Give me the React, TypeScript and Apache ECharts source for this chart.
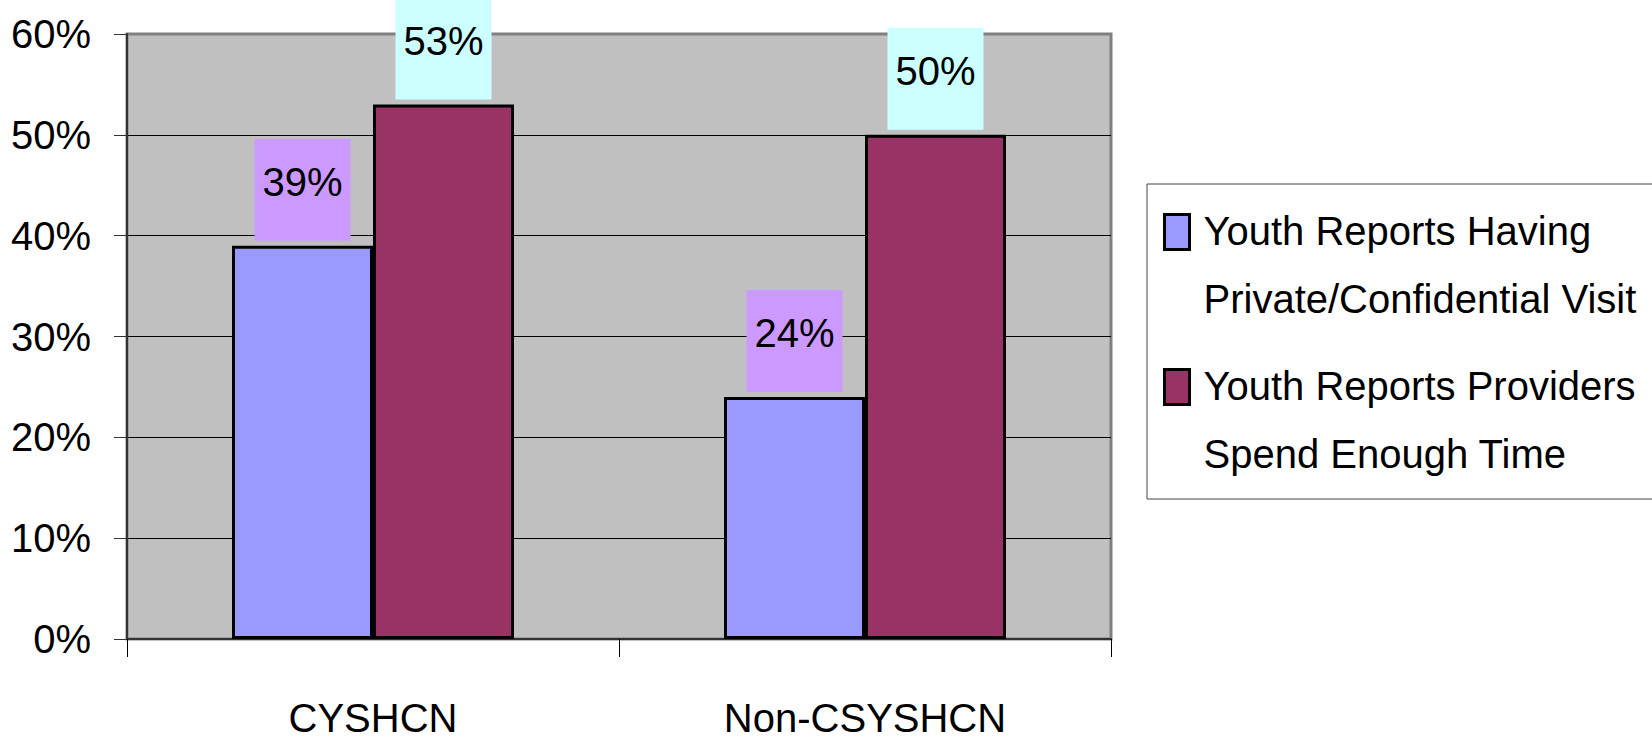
import React, { useEffect, useRef } from "react";
import * as echarts from "echarts";

const categories = ["CYSHCN", "Non-CSYSHCN"];
const seriesNames = [
  "Youth Reports Having\nPrivate/Confidential Visit",
  "Youth Reports Providers\nSpend Enough Time",
];
const privateVisit = [39, 24];
const enoughTime = [53, 50];
const barColors = ["#9999FF", "#993366"];
const labelColors = ["#CC99FF", "#CCFFFF"];

const FONT = "'Liberation Sans', Arial, sans-serif";
const FS = 40;

export default function App() {
  const ref = useRef<HTMLDivElement>(null);
  useEffect(() => {
    document.body.style.margin = "0";
    if (!ref.current) return;
    const chart = echarts.init(ref.current, null, { renderer: "svg" });
    const mkSeries = (i: number, data: number[]) => ({
      name: seriesNames[i],
      type: "bar",
      data,
      barWidth: 141,
      barGap: "0%",
      itemStyle: { color: barColors[i], borderColor: "#000", borderWidth: 3 },
      label: {
        show: true,
        position: "top",
        distance: 5,
        formatter: "{c}%",
        color: "#000",
        fontFamily: FONT,
        fontSize: FS,
        lineHeight: 60,
        backgroundColor: labelColors[i],
        width: 96,
        align: "center",
        padding: [13, 0, 29, 0],
      },
    });
    chart.setOption({
      animation: false,
      backgroundColor: "#fff",
      grid: {
        left: 127,
        right: 541,
        top: 34,
        bottom: 103,
        show: true,
        backgroundColor: "#C0C0C0",
        borderColor: "#808080",
        borderWidth: 3,
      },
      legend: {
        orient: "vertical",
        left: 1147,
        top: 184,
        padding: [11, 30, 10, 16],
        itemGap: 16,
        itemWidth: 34,
        itemHeight: 136,
        icon: "path://M0,18 h25 v35 h-25 z M34,136 L34,136 M0,0 L0,0",
        borderColor: "#444",
        borderWidth: 1,
        backgroundColor: "#fff",
        itemStyle: { borderColor: "#000", borderWidth: 3 },
        textStyle: { fontFamily: FONT, fontSize: FS, lineHeight: 68, color: "#000" },
        data: seriesNames,
      },
      xAxis: {
        type: "category",
        data: categories,
        axisLine: { show: true, lineStyle: { color: "#333", width: 2 } },
        axisTick: { show: true, length: 18, lineStyle: { color: "#000", width: 1 } },
        axisLabel: {
          fontFamily: FONT,
          fontSize: FS,
          lineHeight: 56,
          color: "#000",
          margin: 51,
        },
        splitLine: { show: false },
      },
      yAxis: {
        type: "value",
        min: 0,
        max: 60,
        interval: 10,
        axisLine: { show: true, lineStyle: { color: "#333", width: 2 } },
        axisTick: { show: true, length: 13, lineStyle: { color: "#333", width: 1 } },
        axisLabel: {
          formatter: "{value}%",
          fontFamily: FONT,
          fontSize: FS,
          color: "#000",
          margin: 36,
          padding: [0, 0, 7, 0],
        },
        splitLine: {
          show: true,
          showMinLine: false,
          showMaxLine: false,
          lineStyle: { color: "#000", width: 1 },
        },
      },
      series: [mkSeries(0, privateVisit), mkSeries(1, enoughTime)],
    });
    return () => chart.dispose();
  }, []);
  return <div ref={ref} style={{ width: 1652, height: 746 }} />;
}
